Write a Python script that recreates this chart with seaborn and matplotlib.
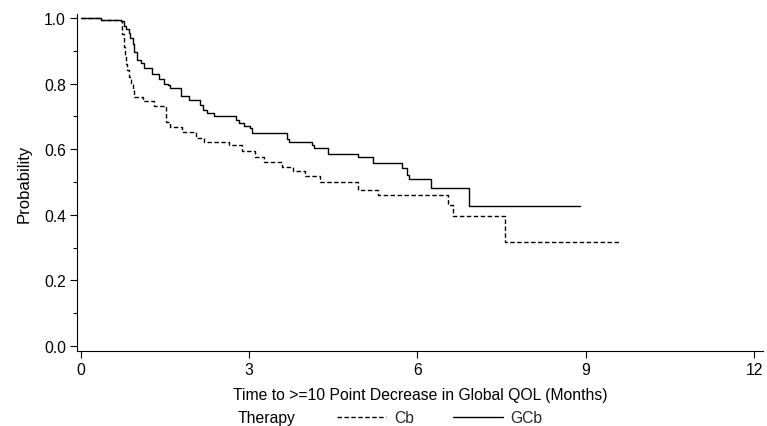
import numpy as np
import pandas as pd
import matplotlib
matplotlib.use("Agg")
import matplotlib.pyplot as plt
from matplotlib.ticker import MultipleLocator
import seaborn as sns

# Kaplan-Meier step estimates: each time marks where the curve takes the new level
cb_time = [0.0, 0.35, 0.72, 0.74, 0.76, 0.78, 0.80, 0.82, 0.86, 0.89, 0.92, 0.95,
           1.10, 1.30, 1.52, 1.58, 1.81, 2.05, 2.19, 2.64, 2.87, 3.10, 3.26, 3.58,
           3.78, 4.00, 4.27, 4.94, 5.30, 6.55, 6.64, 7.56, 9.63]
cb_surv = [1.000, 0.995, 0.990, 0.950, 0.910, 0.880, 0.860, 0.840, 0.820, 0.800, 0.780, 0.758,
           0.748, 0.733, 0.682, 0.667, 0.651, 0.635, 0.621, 0.613, 0.593, 0.575, 0.560, 0.545,
           0.534, 0.519, 0.499, 0.476, 0.461, 0.430, 0.396, 0.318, 0.318]

gcb_time = [0.0, 0.35, 0.72, 0.76, 0.80, 0.85, 0.88, 0.93, 0.95, 1.00, 1.07, 1.13,
            1.27, 1.40, 1.48, 1.55, 1.58, 1.78, 1.92, 2.12, 2.18, 2.25, 2.37, 2.76,
            2.82, 2.90, 3.02, 3.05, 3.67, 3.71, 4.12, 4.15, 4.41, 4.94, 5.21, 5.72,
            5.82, 5.85, 6.24, 6.91, 8.90]
gcb_surv = [1.000, 0.995, 0.990, 0.975, 0.965, 0.955, 0.940, 0.920, 0.895, 0.872, 0.862, 0.848,
            0.829, 0.815, 0.800, 0.795, 0.785, 0.763, 0.750, 0.735, 0.720, 0.710, 0.702, 0.690,
            0.680, 0.672, 0.664, 0.648, 0.632, 0.621, 0.612, 0.603, 0.586, 0.577, 0.559, 0.544,
            0.520, 0.508, 0.483, 0.428, 0.428]

groups = ["Cb", "GCb"]
x_ticks = [0, 3, 6, 9, 12]
y_ticks = [0.0, 0.2, 0.4, 0.6, 0.8, 1.0]

df = pd.concat([
    pd.DataFrame({"Time": cb_time, "Probability": cb_surv, "Therapy": groups[0]}),
    pd.DataFrame({"Time": gcb_time, "Probability": gcb_surv, "Therapy": groups[1]}),
])

sns.set_theme(style="ticks")
plt.rcParams["font.family"] = ["Liberation Sans", "DejaVu Sans"]
FS = 11.3

fig = plt.figure(figsize=(7.67, 4.27), dpi=100)
ax = fig.add_axes([77 / 767, 75 / 427, 686 / 767, 337 / 427])

styles = {"Cb": (0, (3.2, 1.8)), "GCb": "-"}
for g in groups:
    sns.lineplot(data=df[df["Therapy"] == g], x="Time", y="Probability",
                 drawstyle="steps-post", color="black", linewidth=1.0,
                 linestyle=styles[g], estimator=None, sort=False,
                 legend=False, ax=ax)

ax.set_xlim(-0.07, 12.16)
ax.set_ylim(-0.015, 1.012)
ax.set_xticks(x_ticks)
ax.set_xticklabels([str(t) for t in x_ticks])
ax.set_yticks(y_ticks)
ax.set_yticklabels([f"{v:.1f}" for v in y_ticks])
ax.yaxis.set_minor_locator(MultipleLocator(0.1))
ax.tick_params(axis="both", which="major", length=5, width=0.8, labelsize=FS,
               color="black", labelcolor="black", pad=3)
ax.tick_params(axis="y", which="minor", length=3, width=0.8, color="black")
for side in ["top", "right"]:
    ax.spines[side].set_visible(False)
for side in ["left", "bottom"]:
    ax.spines[side].set_color("black")
    ax.spines[side].set_linewidth(0.8)

ax.set_xlabel("Time to >=10 Point Decrease in Global QOL (Months)", fontsize=FS,
              color="black", labelpad=7)
ax.set_ylabel("Probability", fontsize=FS + 0.7, color="black", labelpad=9)

handles = ax.get_lines()[:2]
leg = fig.legend(handles, groups, loc="center left", bbox_to_anchor=(337 / 767, 1 - 419 / 427),
                 ncol=2, frameon=False, fontsize=FS, handlelength=3.15,
                 handletextpad=0.5, columnspacing=2.5, borderaxespad=0, borderpad=0)
fig.text(238 / 767, 1 - 419 / 427, "Therapy", fontsize=FS, va="center", ha="left",
         color="black")

fig.savefig("out.png", dpi=100, facecolor="white")
